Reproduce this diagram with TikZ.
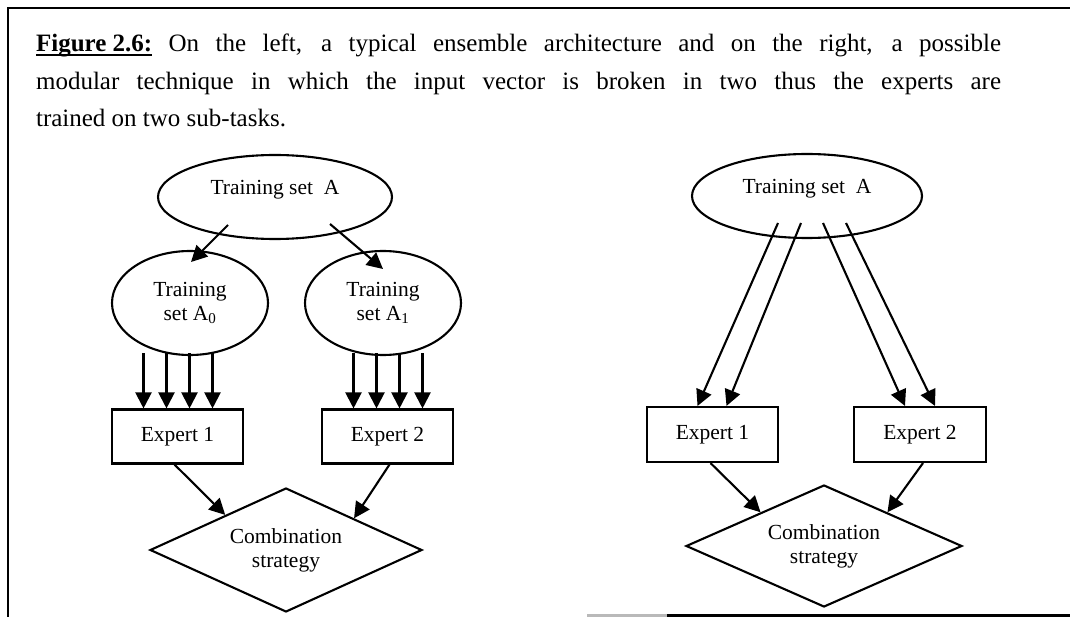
\documentclass[tikz,border=0pt]{standalone}
\usepackage{fontspec}
\setmainfont{Liberation Serif}
\usetikzlibrary{shapes.geometric,arrows.meta,calc}
\newsavebox{\capbox}
% bold label with a rule just under its baseline
\newcommand\ulbold[1]{\sbox\capbox{\bfseries #1}\rlap{\rule[-4pt]{\wd\capbox}{1.8pt}}\usebox\capbox}
\hbadness=10000
\begin{document}
\begin{tikzpicture}[x=1pt,y=-1pt,
  line width=2.1pt,
  dia/.style={font=\fontsize{21.5}{24}\selectfont, align=center},
  oval/.style={dia, draw, ellipse, inner sep=0pt},
  box/.style={dia, draw, rectangle, inner sep=0pt, minimum width=131pt, minimum height=54pt},
  choice/.style={dia, draw, diamond, aspect=2.2, inner sep=0pt},
  arr/.style={-{Triangle[length=16pt,width=16pt]}},
]
\useasboundingbox (0,0) rectangle (1070,617);

% frame
\draw[line width=2.6pt] (8,617) -- (8,8) -- (1070,8);
\draw[line width=2.4pt, gray!55] (587,615.5) -- (667,615.5);
\draw[line width=2.4pt] (667,615.5) -- (1070,615.5);

% caption
\node[anchor=north west, inner sep=0pt, text width=965pt, align=justify,
      font=\fontsize{25}{37.5}\selectfont] (caption) at (35,33)
  {\ulbold{Figure 2.6:} On the left, a typical ensemble architecture and on the right, a possible\linebreak
   modular technique in which the input vector is broken in two thus the experts are\linebreak
   trained on two sub-tasks.};

% ensemble architecture
\node[oval, minimum width=234pt, minimum height=84pt, text height=14pt, text depth=18pt] (tsL) at (275,197) {Training set~~A};
\node[oval, minimum width=156pt, minimum height=104pt] (a0) at (190,303) {Training\\set A\textsubscript{0}};
\node[oval, minimum width=156pt, minimum height=104pt] (a1) at (383,303) {Training\\set A\textsubscript{1}};
\node[box] (e1) at (177.5,436.5) {Expert 1};
\node[box] (e2) at (387.5,436.5) {Expert 2};
\node[choice, minimum width=272pt, minimum height=124pt] (cL) at (286,550) {Combination\\strategy};

\draw[arr] ($(tsL)+(-47,28)$) -- ($(a0)+(1,-41)$);
\draw[arr] ($(tsL)+(55,27)$) -- ($(a1)+(0,-34)$);
\foreach \dx in {-34,-11,12,35} {
  \draw[arr] ($(e1.north)+(\dx,-55)$) -- ($(e1.north)+(\dx,0)$);
  \draw[arr] ($(e2.north)+(\dx,-55)$) -- ($(e2.north)+(\dx,0)$);
}
\draw[arr] ($(e1.south)+(-3,0)$) -- (cL.150);
\draw[arr] ($(e2.south)+(2,0)$) -- (cL.25);

% modular technique
\node[oval, minimum width=230pt, minimum height=84pt, text height=14pt, text depth=18pt] (tsR) at (807,196) {Training set~~A};
\node[box, minimum height=55pt] (e1r) at (712.5,434.5) {Expert 1};
\node[box, minimum height=55pt, minimum width=132pt] (e2r) at (920,434.5) {Expert 2};
\node[choice, minimum width=276pt, minimum height=122pt] (cR) at (824,546) {Combination\\strategy};

\draw[arr] ($(tsR)+(-29,27)$) -- ($(e1r.north)+(-15,0)$);
\draw[arr] ($(tsR)+(-6,27)$) -- ($(e1r.north)+(14,0)$);
\draw[arr] ($(tsR)+(16,27)$) -- ($(e2r.north)+(-15,0)$);
\draw[arr] ($(tsR)+(39,27)$) -- ($(e2r.north)+(15,0)$);
\draw[arr] ($(e1r.south)+(-2,0)$) -- (cR.152);
\draw[arr] ($(e2r.south)+(3,0)$) -- (cR.28);
\end{tikzpicture}
\end{document}
